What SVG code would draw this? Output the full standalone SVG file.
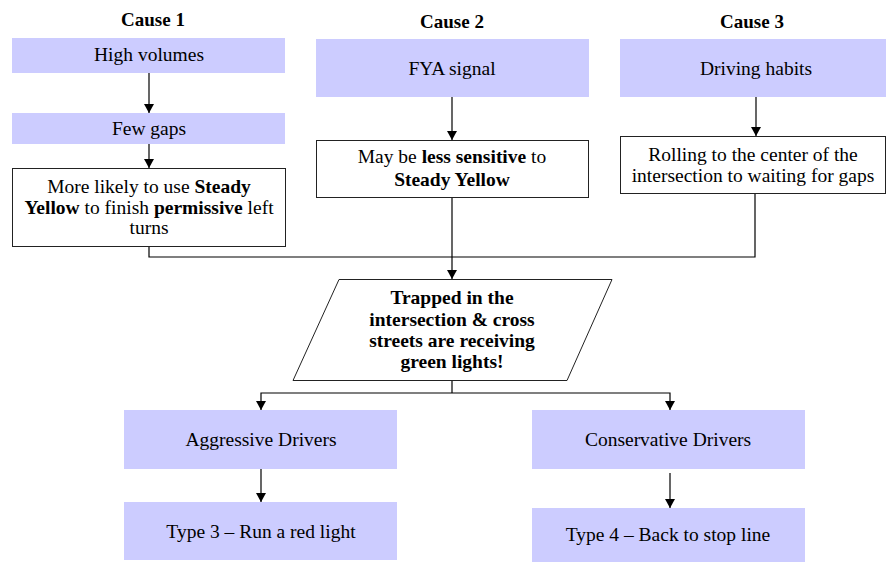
<svg xmlns="http://www.w3.org/2000/svg" width="886" height="562" viewBox="0 0 886 562">
<style>
text, tspan{font-family:'Liberation Serif', serif !important}
text{fill:#000;text-anchor:middle;font-size:19.5px}
.t{font-weight:bold}
.b{font-weight:bold}
.fill{fill:#CCCCFF;stroke:none}
.box{fill:#fff;stroke:#222;stroke-width:1}
.ln{fill:none;stroke:#000;stroke-width:1.2}
.ar{marker-end:url(#ah)}
</style>
<defs>
<marker id="ah" markerUnits="userSpaceOnUse" markerWidth="9" markerHeight="10" refX="9" refY="5" orient="auto" viewBox="0 0 9 10">
<path d="M0,0 L9,5 L0,10 z" fill="#000"/>
</marker>
</defs>
<rect width="886" height="562" fill="#fff"/>
<g id="titles">
<text class="t" style="font-family:'Liberation Serif';font-size:19px" x="153" y="26">Cause 1</text>
<text class="t" style="font-family:'Liberation Serif';font-size:19px" x="452" y="28">Cause 2</text>
<text class="t" style="font-family:'Liberation Serif';font-size:19px" x="752" y="28">Cause 3</text>
</g>
<g id="high-volumes"><rect class="fill" x="12" y="38" width="273" height="35"/><text style="font-family:'Liberation Serif'" x="149" y="61">High volumes</text></g>
<g id="few-gaps"><rect class="fill" x="12" y="113" width="273" height="31"/><text style="font-family:'Liberation Serif'" x="149" y="135">Few gaps</text></g>
<g id="more-likely"><rect class="box" x="12.5" y="168.5" width="273" height="78"/>
<text style="font-family:'Liberation Serif'" x="149" y="193">More likely to use <tspan class="b">Steady</tspan></text>
<text style="font-family:'Liberation Serif'" x="149" y="214"><tspan class="b">Yellow</tspan> to finish <tspan class="b">permissive</tspan> left</text>
<text style="font-family:'Liberation Serif'" x="149" y="234">turns</text></g>
<g id="fya-signal"><rect class="fill" x="316" y="39" width="273" height="58"/><text style="font-family:'Liberation Serif'" x="452" y="75">FYA signal</text></g>
<g id="less-sensitive"><rect class="box" x="316.5" y="140.5" width="272" height="57"/>
<text style="font-family:'Liberation Serif'" x="452" y="163">May be <tspan class="b">less sensitive</tspan> to</text>
<text style="font-family:'Liberation Serif'" x="452" y="186" class="b">Steady Yellow</text></g>
<g id="driving-habits"><rect class="fill" x="620" y="39" width="266" height="58"/><text style="font-family:'Liberation Serif'" x="756" y="75">Driving habits</text></g>
<g id="rolling"><rect class="box" x="620.5" y="136.5" width="265" height="57"/>
<text style="font-family:'Liberation Serif'" x="753" y="161">Rolling to the center of the</text>
<text style="font-family:'Liberation Serif'" x="753" y="182">intersection to waiting for gaps</text></g>
<g id="trapped"><polygon class="box" points="339,279.5 612,279.5 567,380.5 293,380.5"/>
<text class="t" style="font-family:'Liberation Serif'" x="452" y="304">Trapped in the</text>
<text class="t" style="font-family:'Liberation Serif'" x="452" y="326">intersection &amp; cross</text>
<text class="t" style="font-family:'Liberation Serif'" x="452" y="347">streets are receiving</text>
<text class="t" style="font-family:'Liberation Serif'" x="452" y="368">green lights!</text></g>
<g id="aggressive"><rect class="fill" x="124" y="410" width="273" height="59"/><text style="font-family:'Liberation Serif'" x="261" y="446">Aggressive Drivers</text></g>
<g id="type3"><rect class="fill" x="124" y="502" width="273" height="58"/><text style="font-family:'Liberation Serif'" x="261" y="538">Type 3 – Run a red light</text></g>
<g id="conservative"><rect class="fill" x="532" y="410" width="273" height="59"/><text style="font-family:'Liberation Serif'" x="668" y="446">Conservative Drivers</text></g>
<g id="type4"><rect class="fill" x="532" y="508" width="273" height="54"/><text style="font-family:'Liberation Serif'" x="668" y="541">Type 4 – Back to stop line</text></g>
<g id="connectors">
<path class="ln ar" d="M149,73 V113"/>
<path class="ln ar" d="M149,144 V168"/>
<path class="ln ar" d="M452,97 V140"/>
<path class="ln ar" d="M756,97 V136"/>
<path class="ln" d="M149,247 V257 H755 V194"/>
<path class="ln ar" d="M452,198 V279"/>
<path class="ln" d="M452,381 V393"/>
<path class="ln ar" d="M452,393 H261 V410"/>
<path class="ln ar" d="M452,393 H670 V410"/>
<path class="ln ar" d="M261,469 V502"/>
<path class="ln ar" d="M670,473 V508"/>
</g>
</svg>
